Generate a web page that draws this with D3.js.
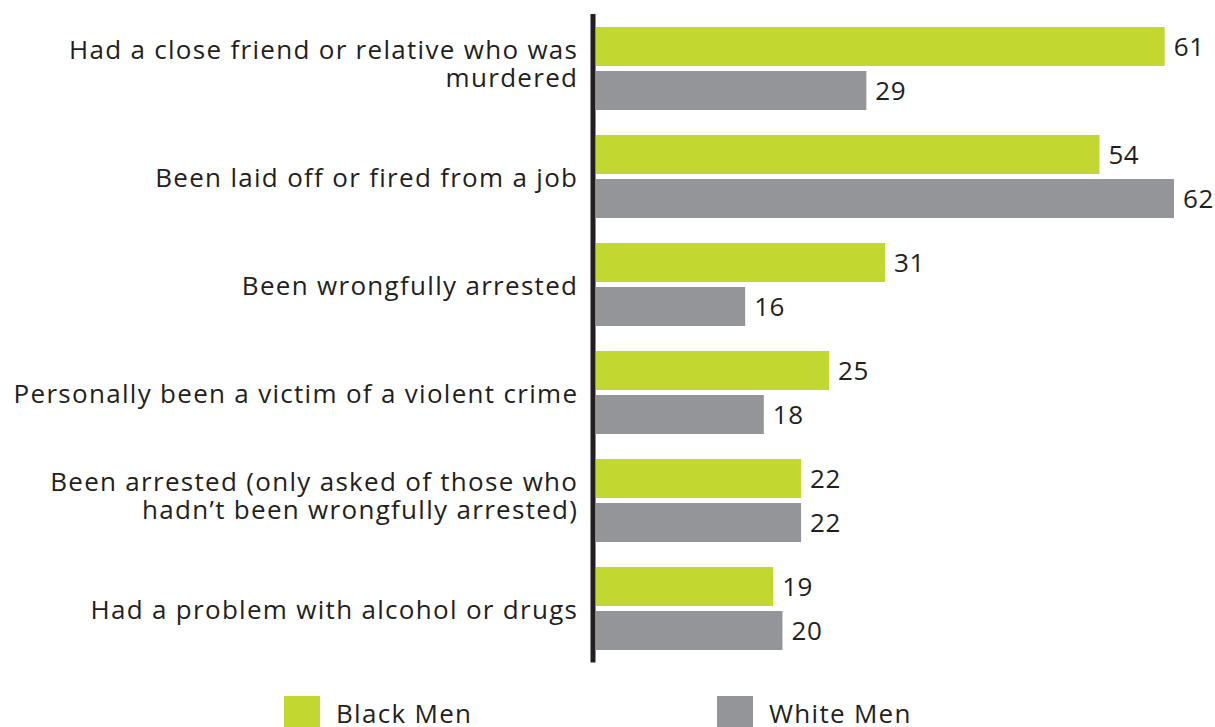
<!DOCTYPE html>
<html>
<head>
<meta charset="utf-8">
<script src="https://cdn.jsdelivr.net/npm/d3@7"></script>
<style>
  html, body { margin: 0; padding: 0; background: #fff; }
  svg { display: block; }
  text { font-family: "Open Sans", sans-serif; fill: #231f20; letter-spacing: 1.3px; }
  text.value { letter-spacing: 0.6px; }
</style>
</head>
<body>
<svg id="chart" width="1215" height="727"></svg>
<script>
// Share of men who have had each experience (%)
const categories = [
  ["Had a close friend or relative who was", "murdered"],
  ["Been laid off or fired from a job"],
  ["Been wrongfully arrested"],
  ["Personally been a victim of a violent crime"],
  ["Been arrested (only asked of those who", "hadn\u2019t been wrongfully arrested)"],
  ["Had a problem with alcohol or drugs"]
];
const seriesNames = ["Black Men", "White Men"];
const blackMen = [61, 54, 31, 25, 22, 19];
const whiteMen = [29, 62, 16, 18, 22, 20];
const seriesColors = ["#c2d730", "#939598"];

const svg = d3.select("#chart");
const fontSize = 26;
const spacing = 1.3;

const keys = categories.map((c, i) => i);
const x = d3.scaleLinear().domain([0, 62]).range([596, 1174]);
const y = d3.scaleBand().domain(keys).range([14.5, 662.5]);
const yInner = d3.scaleBand().domain(seriesNames).range([12.5, 95.5]).paddingInner(5 / 44);

const rows = keys.map(i => ({ i, values: [blackMen[i], whiteMen[i]] }));

const groups = svg.selectAll("g.group").data(rows).join("g")
  .attr("class", "group")
  .attr("transform", d => `translate(0,${y(d.i)})`);

groups.selectAll("rect").data(d => d.values.map((v, s) => ({ v, s }))).join("rect")
  .attr("x", x(0))
  .attr("y", d => yInner(seriesNames[d.s]))
  .attr("width", d => x(d.v) - x(0))
  .attr("height", yInner.bandwidth())
  .attr("fill", d => seriesColors[d.s]);

groups.selectAll("text.value").data(d => d.values.map((v, s) => ({ v, s }))).join("text")
  .attr("class", "value")
  .attr("x", d => x(d.v) + 9)
  .attr("y", d => yInner(seriesNames[d.s]) + yInner.bandwidth() / 2 + 9)
  .attr("font-size", fontSize)
  .text(d => d.v);

// Category labels, right-aligned left of the axis
const lineH = 28;
groups.append("text")
  .attr("class", "cat")
  .attr("text-anchor", "end")
  .attr("font-size", fontSize)
  .each(function(d) {
    const lines = categories[d.i];
    const n = lines.length;
    const t = d3.select(this);
    const c = y.bandwidth() / 2;
    lines.forEach((ln, k) => {
      t.append("tspan")
        .attr("x", 577 + spacing)
        .attr("y", c + 10.5 + (k - (n - 1) / 2) * lineH - (n - 1) * 6)
        .text(ln);
    });
  });

// Vertical axis line
svg.append("line")
  .attr("x1", 593).attr("x2", 593)
  .attr("y1", y.range()[0] - 0.5).attr("y2", y.range()[1])
  .attr("stroke", "#231f20")
  .attr("stroke-width", 5);

// Legend
const legendX = [284, 717];
const legend = svg.selectAll("g.legend").data(seriesNames).join("g")
  .attr("class", "legend")
  .attr("transform", (d, i) => `translate(${legendX[i]},696)`);
legend.append("rect")
  .attr("width", 36).attr("height", 36)
  .attr("fill", (d, i) => seriesColors[i]);
legend.append("text")
  .attr("x", 52).attr("y", 27)
  .attr("font-size", fontSize)
  .text(d => d);
</script>
</body>
</html>
